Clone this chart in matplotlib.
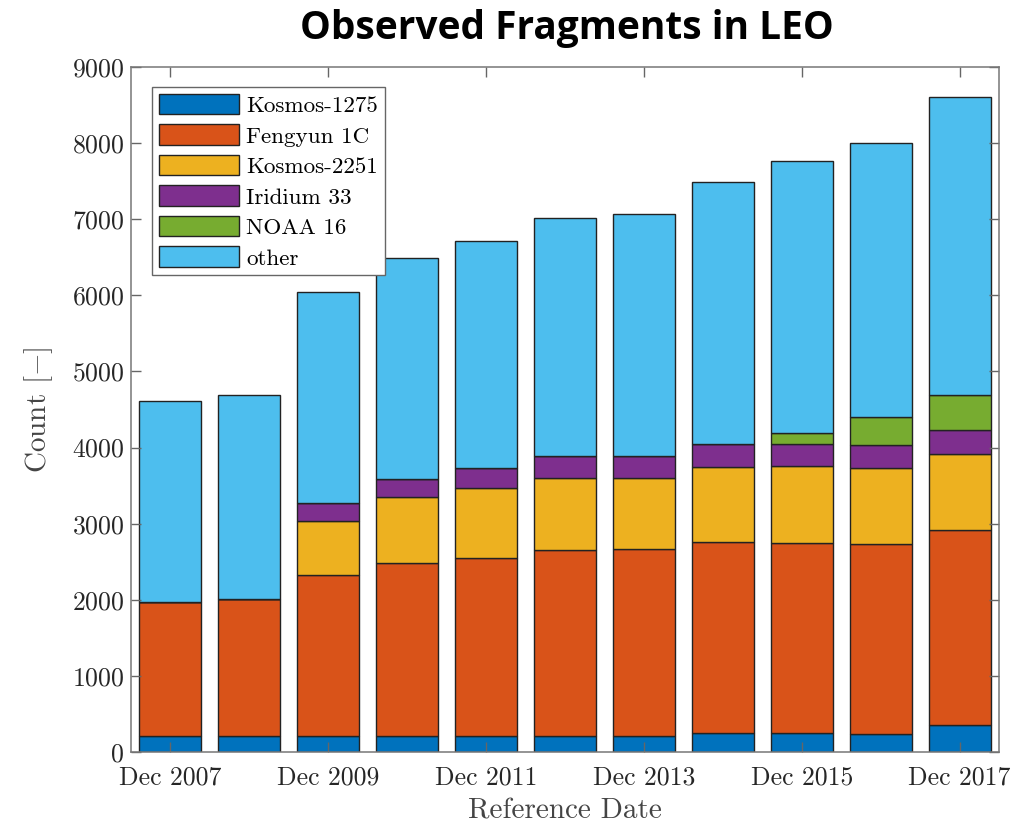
import numpy as np
import matplotlib
matplotlib.use("Agg")
import matplotlib.pyplot as plt

plt.rcParams['font.family'] = 'serif'
plt.rcParams['font.serif'] = ['cmr10']
plt.rcParams['mathtext.fontset'] = 'cm'
plt.rcParams['axes.formatter.use_mathtext'] = True

# Reference dates (yearly, Dec 2007 .. Dec 2017)
dates = ["Dec 2007", "Dec 2008", "Dec 2009", "Dec 2010", "Dec 2011", "Dec 2012",
         "Dec 2013", "Dec 2014", "Dec 2015", "Dec 2016", "Dec 2017"]

# Fragment counts per source (stacked)
kosmos1275 = [215, 215, 215, 215, 215, 215, 215, 250, 250, 241, 359]
fengyun1c = [1755, 1798, 2105, 2263, 2328, 2434, 2452, 2509, 2500, 2487, 2553]
kosmos2251 = [0, 0, 715, 873, 922, 947, 938, 991, 1009, 1009, 1009]
iridium33 = [0, 0, 232, 241, 268, 290, 290, 298, 294, 302, 316]
noaa16 = [0, 0, 0, 0, 0, 0, 0, 0, 140, 356, 456]
other = [2644, 2680, 2783, 2893, 2982, 3127, 3180, 3435, 3574, 3601, 3908]

series = [kosmos1275, fengyun1c, kosmos2251, iridium33, noaa16, other]
names = ["Kosmos-1275", "Fengyun 1C", "Kosmos-2251", "Iridium 33", "NOAA 16", "other"]
colors = ["#0072BD", "#D95319", "#EDB120", "#7E2F8E", "#77AC30", "#4DBEEE"]

W, H = 1035, 826
fig = plt.figure(figsize=(W / 100, H / 100), dpi=100)
ax = fig.add_axes([131 / W, 1 - 752 / H, 868 / W, 685 / H])

x = np.arange(len(dates))
bottom = np.zeros(len(dates))
for vals, name, col in zip(series, names, colors):
    vals = np.array(vals, dtype=float)
    ax.bar(x, vals, width=0.785, bottom=bottom, color=col, edgecolor="#222222",
           linewidth=1.0, label=name)
    bottom += vals

ax.set_xlim(-0.5, 10.5)
ax.set_ylim(0, 9000)
ax.set_yticks(np.arange(0, 9001, 1000))
ax.set_xticks(x[::2])
ax.set_xticklabels(dates[::2])

ax.tick_params(direction="in", top=True, right=True, labelsize=18.5, length=7,
               color="#666666", labelcolor="#262626", width=1.0, pad=5)
ax.tick_params(axis="x", pad=10)
for sp in ax.spines.values():
    sp.set_color("#777777")
    sp.set_linewidth(1.1)

ax.set_xlabel("Reference Date", fontsize=21, color="#444444", labelpad=6)
ax.set_ylabel(r"Count $[-]$", fontsize=21, color="#444444", labelpad=12)

leg = ax.legend(loc="upper left", bbox_to_anchor=(0.024, 0.971), fontsize=16.6,
                fancybox=False, framealpha=1, edgecolor="#666666",
                handlelength=3.5, handleheight=1.0, handletextpad=0.3,
                labelspacing=0.36, borderpad=0.3, borderaxespad=0)
leg.get_frame().set_linewidth(1.0)

fig.text(567 / W, 1 - 29 / H, "Observed Fragments in LEO", ha="center", va="center",
         fontsize=28, fontweight="bold", family="Open Sans")

fig.savefig("out.png", dpi=100)
